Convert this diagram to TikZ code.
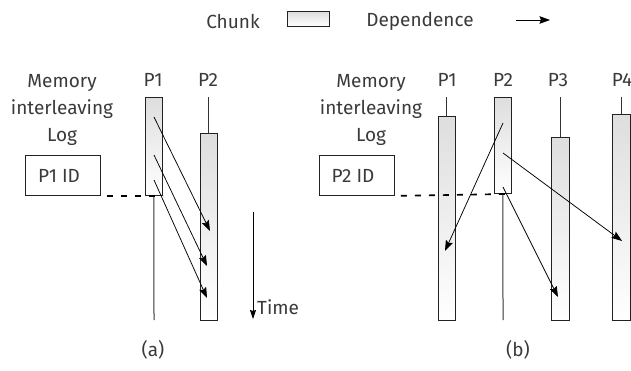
\documentclass[tikz,border=0pt]{standalone}
\usepackage{fontspec}
\setmainfont{Fira Sans}
\usetikzlibrary{arrows.meta}
\definecolor{txt}{HTML}{3A3A3A}
\definecolor{barline}{HTML}{222222}
\definecolor{procline}{HTML}{333333}
\tikzset{
  lbl/.style={text=txt, font=\fontsize{19}{27}\selectfont, inner sep=0pt},
  chunk/.style={draw=barline, line width=0.9pt, top color=black!13, bottom color=white, inner sep=0pt, anchor=north west},
  proc/.style={draw=procline, line width=1pt},
  dep/.style={draw=black, line width=0.75pt, -{Stealth[length=10.5pt,width=7.5pt,inset=1.5pt]}},
  logline/.style={draw=black, line width=1.6pt, dash pattern=on 6pt off 8pt, dash phase=8pt},
  logbox/.style={draw=barline, line width=0.9pt, inner sep=0pt, anchor=north west}
}
\begin{document}
\begin{tikzpicture}[x=1pt,y=-1pt]
\useasboundingbox (0,0) rectangle (631,371);
% legend
\node[lbl] (lchunk) at (233,21) {Chunk};
\node[chunk, minimum width=42pt, minimum height=15pt] (lbox) at (287,11) {};
\node[lbl] (ldep) at (420,21) {Dependence};
\coordinate (la) at (516,20);
\coordinate (lb) at (550,20);
\draw[dep, line width=0.8pt] (la) -- (lb);

% ---------- panel (a) ----------
\node[lbl, align=center] (memA) at (62,110) {Memory\\interleaving\\Log};
\node[logbox, minimum width=75pt, minimum height=40pt] (idA) at (25,155) {};
\node[lbl] (idAt) at (59,176) {P1 ID};
\node[lbl] (aP1) at (153,80) {P1};
\node[lbl] (aP2) at (208,80) {P2};
% P1
\coordinate (aP1bot) at (154,320);
\coordinate (aP2top) at (208,97);
\node[chunk, minimum width=17pt, minimum height=98pt] (aB1) at (145,97) {};
\draw[proc] (aB1.south) -- (aP1bot);
\draw[proc] (aP2top) -- (208,133);
\node[chunk, minimum width=17pt, minimum height=187pt] (aB2) at (200,133) {};
\draw[logline] (idA.south east) -- (aB1.south east);
% arrows
\coordinate (a1s) at (154,117); \coordinate (a1e) at (210,231);
\coordinate (a2s) at (154,155); \coordinate (a2e) at (207,266);
\coordinate (a3s) at (154,180); \coordinate (a3e) at (207,298);
\draw[dep] (a1s) -- (a1e);
\draw[dep] (a2s) -- (a2e);
\draw[dep] (a3s) -- (a3e);
% time
\coordinate (t1) at (253,212); \coordinate (t2) at (253,319);
\draw[draw=black, line width=0.75pt, -{Stealth[length=9pt,width=6pt,inset=1pt]}] (t1) -- (t2);
\node[lbl, anchor=west] (time) at (257,307) {Time};
\node[lbl] (capa) at (153,350) {(a)};

% ---------- panel (b) ----------
\node[lbl, align=center] (memB) at (371,110) {Memory\\interleaving\\Log};
\node[logbox, minimum width=75pt, minimum height=40pt] (idB) at (319,155) {};
\node[lbl] (idBt) at (353,176) {P2 ID};
\node[lbl] (bP1) at (447,80) {P1};
\node[lbl] (bP2) at (503,80) {P2};
\node[lbl] (bP3) at (558,80) {P3};
\node[lbl] (bP4) at (622,80) {P4};
% P1
\coordinate (bP1top) at (446,97);
\draw[proc] (bP1top) -- (446,116);
\node[chunk, minimum width=17pt, minimum height=204pt] (bB1) at (438,116) {};
% P2
\node[chunk, minimum width=17pt, minimum height=96pt] (bB2) at (494,97) {};
\coordinate (bP2bot) at (503,320);
\draw[proc] (bB2.south) -- (bP2bot);
% P3
\coordinate (bP3top) at (560,97);
\draw[proc] (bP3top) -- (560,137);
\node[chunk, minimum width=18pt, minimum height=183pt] (bB3) at (551,137) {};
% P4
\coordinate (bP4top) at (621,97);
\draw[proc] (bP4top) -- (621,114);
\node[chunk, minimum width=18pt, minimum height=206pt] (bB4) at (612,114) {};
\draw[logline] (idB.south east) -- (bB2.south east);
% arrows
\coordinate (b1s) at (503,123); \coordinate (b1e) at (445,251);
\coordinate (b2s) at (503,153); \coordinate (b2e) at (622,241);
\coordinate (b3s) at (503,187); \coordinate (b3e) at (558,297);
\draw[dep] (b1s) -- (b1e);
\draw[dep] (b2s) -- (b2e);
\draw[dep] (b3s) -- (b3e);
\node[lbl] (capb) at (518,350) {(b)};
\end{tikzpicture}
\end{document}
